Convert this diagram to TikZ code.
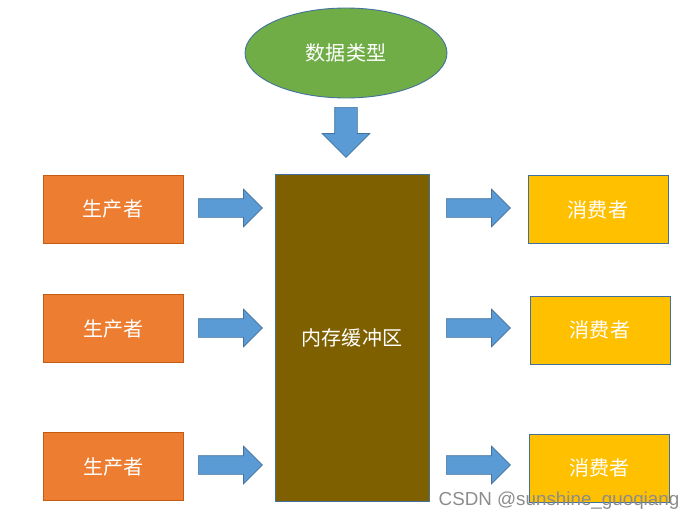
\documentclass[tikz,border=0pt]{standalone}
\usepackage{fontspec}
\setsansfont{Liberation Sans}
\newfontfamily\cjk{Noto Sans CJK SC}
\usetikzlibrary{positioning,shapes.geometric,shapes.arrows}
\definecolor{prodc}{HTML}{ED7D31}
\definecolor{prodl}{HTML}{C55A11}
\definecolor{consc}{HTML}{FFC000}
\definecolor{bufc}{HTML}{7F6000}
\definecolor{typec}{HTML}{70AD47}
\definecolor{arrc}{HTML}{5B9BD5}
\definecolor{edgec}{HTML}{41719C}
\tikzset{
  box/.style={draw, align=center, font=\cjk\fontsize{11.4}{13}\selectfont, text=white,
              line width=0.5pt, inner sep=0pt},
  pbox/.style={box, draw=prodl, fill=prodc, minimum width=2.8cm, minimum height=1.36cm},
  cbox/.style={box, draw=edgec, fill=consc, minimum width=2.8cm, minimum height=1.36cm},
  bufbox/.style={box, draw=edgec, fill=bufc, minimum width=3.08cm, minimum height=6.54cm},
  tbox/.style={box, ellipse, draw=edgec, fill=typec, minimum width=4.04cm, minimum height=1.8cm},
  barr/.style={single arrow, draw=edgec, fill=arrc, line width=0.4pt, anchor=tail,
               inner xsep=0pt, inner ysep=0.18cm, single arrow head extend=0.19cm,
               minimum width=0.74cm, minimum height=1.28cm},
  darr/.style={barr, shape border rotate=270, inner xsep=0.22cm, inner ysep=0pt,
               single arrow head extend=0.25cm, minimum width=0.94cm, minimum height=1.0cm},
  wmark/.style={font=\sffamily\fontsize{10.7}{12}\selectfont, text=black!45},
}

\begin{document}
\begin{tikzpicture}[x=0.02cm, y=-0.02cm]
  \useasboundingbox (0,0) rectangle (696,521);

  \node[tbox] (type) at (346,53) {数据类型};
  \node[darr] (down) at (346,107) {};
  \node[bufbox] (buf) at (352,337.5) {内存缓冲区};

  \node[pbox] (p1) at (113,209) {生产者};
  \node[pbox] (p2) at (113.5,328.5) {生产者};
  \node[pbox] (p3) at (113.5,466.5) {生产者};

  \node[cbox] (c1) at (598,209.5) {消费者};
  \node[cbox] (c2) at (600,330) {消费者};
  \node[cbox] (c3) at (599.5,468) {消费者};

  \foreach \i/\y in {1/208,2/328,3/465} {
    \node[barr] (la\i) at (198,\y) {};
    \node[barr] (ra\i) at (446,\y) {};
  }

  \node[wmark] (wm) at (559,501) {CSDN @sunshine\_guoqiang};
\end{tikzpicture}
\end{document}
